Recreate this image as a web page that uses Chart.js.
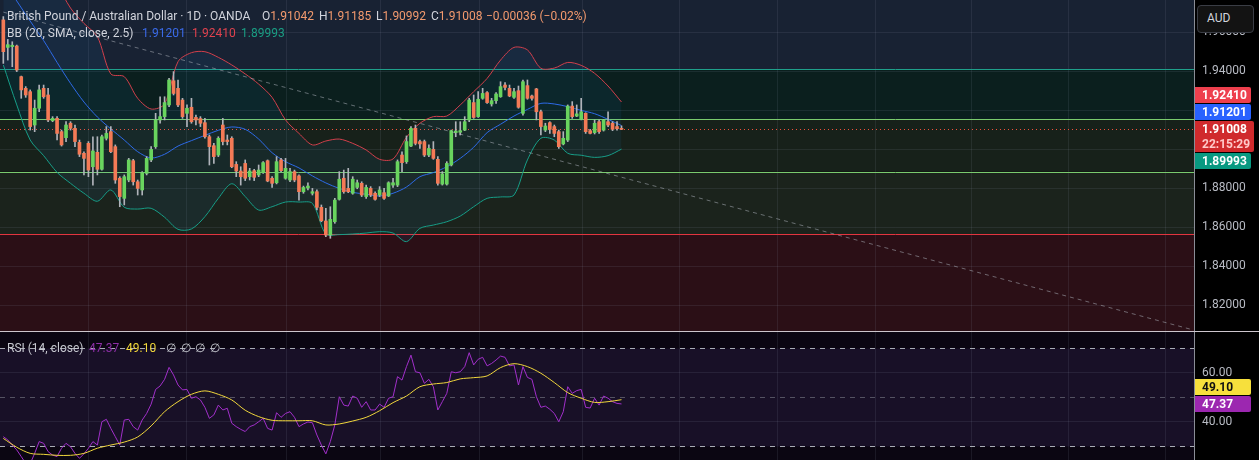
<!DOCTYPE html>
<html>
<head>
<meta charset="utf-8">
<title>GBPAUD 1D</title>
<script src="https://cdn.jsdelivr.net/npm/chart.js@4.4.1/dist/chart.umd.min.js"></script>
<style>
  html, body { margin: 0; padding: 0; background: #000; }
  body { width: 1259px; height: 460px; position: relative; overflow: hidden; font-family: Roboto, "Noto Sans", sans-serif; }
  canvas { position: absolute; left: 0; }
  #main { top: 0; }
  #rsi { top: 331px; }
  .t { position: absolute; font-size: 12px; line-height: 14px; white-space: nowrap; color: #d1d4dc; pointer-events: none; }
  .v { color: #f39a6e; }
  #aud { position: absolute; left: 1197px; top: 5px; width: 57px; height: 28px; box-sizing: border-box; border: 1px solid #3a3d45; border-radius: 4px; background: #131313; color: #d1d4dc; font-size: 12px; line-height: 24px; padding-left: 9px; }
</style>
</head>
<body>
<canvas id="main" width="1259" height="331"></canvas>
<canvas id="rsi" width="1259" height="129"></canvas>

<div class="t" style="left:7px;top:9px">British Pound / Australian Dollar · 1D · OANDA</div>
<div class="t" id="lgO" style="left:262px;top:9px"></div>
<div class="t" id="lgH" style="left:319px;top:9px"></div>
<div class="t" id="lgL" style="left:376px;top:9px"></div>
<div class="t" id="lgC" style="left:431px;top:9px"></div>
<div class="t v" id="lgChg" style="left:486px;top:9px"></div>

<div class="t" style="left:7px;top:26px">BB (20, SMA, close, 2.5)</div>
<div class="t" id="lgBasis" style="left:142px;top:26px;color:#3a6ae8"></div>
<div class="t" id="lgUpper" style="left:192px;top:26px;color:#e0424e"></div>
<div class="t" id="lgLower" style="left:241px;top:26px;color:#1a9e84"></div>

<div class="t" style="left:7px;top:341px;color:#c6c8cf">RSI (14, close)</div>
<div class="t" id="lgRsi" style="left:89px;top:341px;color:#8d2fa6"></div>
<div class="t" id="lgMa" style="left:126px;top:341px;color:#f2d83a"></div>
<div class="t" style="left:166px;top:341px;color:#c6c8cf">∅</div>
<div class="t" style="left:181px;top:341px;color:#c6c8cf">∅</div>
<div class="t" style="left:195px;top:341px;color:#c6c8cf">∅</div>
<div class="t" style="left:210px;top:341px;color:#c6c8cf">∅</div>

<div id="aud">AUD</div>

<script>
// daily candles, oldest first
const opens = [
  1.9662, 1.9521, 1.9525, 1.9528, 1.9371, 1.9311, 1.9294, 1.9123, 1.9209, 1.9311,
  1.9277, 1.9145, 1.9157, 1.9089, 1.9058, 1.9132, 1.9106, 1.9034, 1.8978, 1.9029,
  1.8909, 1.8983, 1.8896, 1.9055, 1.9089, 1.9012, 1.8850, 1.8747, 1.8841, 1.8940,
  1.8832, 1.8790, 1.8875, 1.8944, 1.9012, 1.9149, 1.9166, 1.9226, 1.9350, 1.9311,
  1.9251, 1.9183, 1.9214, 1.9162, 1.9156, 1.9135, 1.9063, 1.9017, 1.8969, 1.9123,
  1.9046, 1.9055, 1.8921, 1.8887, 1.8926, 1.8858, 1.8889, 1.8867, 1.8879, 1.8940,
  1.8850, 1.8827, 1.8944, 1.8850, 1.8841, 1.8884, 1.8862, 1.8781, 1.8800, 1.8773,
  1.8781, 1.8701, 1.8631, 1.8559, 1.8627, 1.8742, 1.8850, 1.8798, 1.8773, 1.8803,
  1.8824, 1.8756, 1.8798, 1.8773, 1.8764, 1.8776, 1.8759, 1.8815, 1.8815, 1.8969,
  1.8935, 1.9015, 1.9106, 1.9038, 1.9038, 1.8969, 1.8998, 1.8947, 1.8820, 1.8820,
  1.8918, 1.9084, 1.9086, 1.9097, 1.9149, 1.9238, 1.9166, 1.9260, 1.9289, 1.9231,
  1.9248, 1.9268, 1.9328, 1.9311, 1.9265, 1.9299, 1.9183, 1.9325, 1.9272, 1.9308,
  1.9191, 1.9097, 1.9135, 1.9115, 1.9089, 1.9026, 1.9046, 1.9220, 1.9169, 1.9152,
  1.9183, 1.9094, 1.9084, 1.9140, 1.9097, 1.9140, 1.9132, 1.9115, 1.91042
];
const highs = [
  1.9679, 1.9562, 1.9550, 1.9533, 1.9374, 1.9320, 1.9303, 1.9251, 1.9328, 1.9328,
  1.9311, 1.9166, 1.9166, 1.9097, 1.9140, 1.9140, 1.9123, 1.9046, 1.8986, 1.9038,
  1.9063, 1.9063, 1.9072, 1.9115, 1.9115, 1.9021, 1.8858, 1.8867, 1.8952, 1.8947,
  1.8841, 1.8884, 1.8961, 1.9012, 1.9183, 1.9268, 1.9268, 1.9362, 1.9397, 1.9354,
  1.9260, 1.9226, 1.9260, 1.9174, 1.9166, 1.9157, 1.9072, 1.9029, 1.9063, 1.9157,
  1.9072, 1.9063, 1.8935, 1.8909, 1.8944, 1.8901, 1.8896, 1.8918, 1.8935, 1.8944,
  1.8858, 1.8961, 1.8952, 1.8952, 1.8901, 1.8892, 1.8867, 1.8810, 1.8827, 1.8798,
  1.8790, 1.8713, 1.8696, 1.8704, 1.8747, 1.8884, 1.8892, 1.8901, 1.8858, 1.8841,
  1.8832, 1.8815, 1.8807, 1.8781, 1.8807, 1.8798, 1.8832, 1.8850, 1.8944, 1.8986,
  1.9067, 1.9115, 1.9123, 1.9046, 1.9046, 1.9021, 1.9038, 1.8961, 1.8884, 1.8935,
  1.9097, 1.9140, 1.9140, 1.9166, 1.9260, 1.9277, 1.9294, 1.9311, 1.9294, 1.9260,
  1.9289, 1.9345, 1.9340, 1.9328, 1.9311, 1.9323, 1.9354, 1.9354, 1.9277, 1.9311,
  1.9200, 1.9132, 1.9140, 1.9123, 1.9097, 1.9089, 1.9226, 1.9243, 1.9226, 1.9260,
  1.9186, 1.9101, 1.9149, 1.9149, 1.9152, 1.9191, 1.9140, 1.9140, 1.91185
];
const lows = [
  1.9439, 1.9456, 1.9422, 1.9397, 1.9260, 1.9265, 1.9097, 1.9089, 1.9191, 1.9260,
  1.9140, 1.9140, 1.9046, 1.9015, 1.9038, 1.9097, 1.9012, 1.8961, 1.8867, 1.8858,
  1.8815, 1.8867, 1.8892, 1.9046, 1.8981, 1.8824, 1.8704, 1.8713, 1.8832, 1.8815,
  1.8764, 1.8764, 1.8867, 1.8935, 1.9003, 1.9132, 1.9149, 1.9217, 1.9277, 1.9217,
  1.9157, 1.9115, 1.9132, 1.9123, 1.9115, 1.9055, 1.8918, 1.8926, 1.8961, 1.9021,
  1.9021, 1.8904, 1.8858, 1.8815, 1.8838, 1.8841, 1.8838, 1.8858, 1.8875, 1.8832,
  1.8803, 1.8821, 1.8884, 1.8845, 1.8832, 1.8832, 1.8738, 1.8773, 1.8790, 1.8764,
  1.8687, 1.8627, 1.8550, 1.8542, 1.8619, 1.8738, 1.8773, 1.8776, 1.8768, 1.8796,
  1.8756, 1.8747, 1.8756, 1.8738, 1.8756, 1.8742, 1.8756, 1.8803, 1.8807, 1.8884,
  1.8926, 1.9012, 1.9021, 1.9003, 1.8961, 1.8961, 1.8947, 1.8815, 1.8815, 1.8815,
  1.8913, 1.9063, 1.9072, 1.9094, 1.9140, 1.9157, 1.9162, 1.9255, 1.9234, 1.9220,
  1.9234, 1.9265, 1.9303, 1.9268, 1.9260, 1.9209, 1.9174, 1.9255, 1.9251, 1.9149,
  1.9072, 1.9089, 1.9080, 1.9063, 1.9003, 1.9021, 1.9038, 1.9157, 1.9166, 1.9149,
  1.9080, 1.9077, 1.9077, 1.9080, 1.9092, 1.9115, 1.9094, 1.9097, 1.90992
];
const closes = [
  1.9499, 1.9535, 1.9532, 1.9405, 1.9303, 1.9277, 1.9115, 1.9209, 1.9303, 1.9268,
  1.9149, 1.9157, 1.9080, 1.9021, 1.9123, 1.9106, 1.9038, 1.8973, 1.8952, 1.8892,
  1.8990, 1.8896, 1.9063, 1.9080, 1.8986, 1.8841, 1.8756, 1.8858, 1.8944, 1.8832,
  1.8798, 1.8879, 1.8952, 1.8998, 1.9149, 1.9166, 1.9238, 1.9354, 1.9285, 1.9226,
  1.9166, 1.9209, 1.9140, 1.9149, 1.9132, 1.9063, 1.9012, 1.8961, 1.9055, 1.9038,
  1.9038, 1.8909, 1.8887, 1.8858, 1.8850, 1.8887, 1.8855, 1.8892, 1.8930, 1.8836,
  1.8824, 1.8935, 1.8889, 1.8901, 1.8884, 1.8841, 1.8781, 1.8803, 1.8810, 1.8781,
  1.8701, 1.8632, 1.8559, 1.8639, 1.8738, 1.8845, 1.8781, 1.8781, 1.8845, 1.8827,
  1.8764, 1.8803, 1.8764, 1.8742, 1.8790, 1.8747, 1.8827, 1.8827, 1.8935, 1.8930,
  1.9038, 1.9106, 1.9029, 1.9026, 1.8969, 1.9003, 1.8952, 1.8824, 1.8872, 1.8926,
  1.9094, 1.9092, 1.9094, 1.9140, 1.9251, 1.9162, 1.9255, 1.9285, 1.9238, 1.9248,
  1.9282, 1.9320, 1.9316, 1.9272, 1.9294, 1.9214, 1.9345, 1.9260, 1.9260, 1.9191,
  1.9115, 1.9118, 1.9101, 1.9080, 1.9012, 1.9055, 1.9220, 1.9166, 1.9180, 1.9191,
  1.9089, 1.9080, 1.9132, 1.9089, 1.9149, 1.9123, 1.9101, 1.91044, 1.91008
];

// Bollinger bands, read every BB_STEP candles
const BB_STEP = 3;
const bbBasis = [
  1.9862, 1.9759, 1.9656, 1.9556, 1.9444, 1.9337, 1.9241, 1.9164, 1.9103, 1.9046,
  1.8986, 1.8954, 1.8973, 1.9015, 1.9043, 1.9070, 1.9096, 1.9113, 1.9101, 1.9051,
  1.8981, 1.8935, 1.8903, 1.8862, 1.8826, 1.8798, 1.8778, 1.8768, 1.8759, 1.8773,
  1.8805, 1.8858, 1.8879, 1.8909, 1.8952, 1.9009, 1.9084, 1.9127, 1.9169, 1.9203,
  1.9234, 1.9231, 1.9217, 1.9198, 1.9181, 1.9152, 1.91201
];
const bbUpper = [
  2.0226, 2.0157, 2.0072, 1.9969, 1.9846, 1.9723, 1.9644, 1.9576, 1.9385, 1.9371,
  1.9260, 1.9205, 1.9231, 1.9448, 1.9494, 1.9499, 1.9470, 1.9431, 1.9385, 1.9333,
  1.9265, 1.9149, 1.9080, 1.9021, 1.9041, 1.9051, 1.9029, 1.8995, 1.8947, 1.8949,
  1.9060, 1.9132, 1.9166, 1.9169, 1.9226, 1.9294, 1.9362, 1.9456, 1.9521, 1.9508,
  1.9414, 1.9415, 1.9444, 1.9429, 1.9388, 1.9323, 1.92410
];
const bbLower = [
  1.9431, 1.9226, 1.9046, 1.8966, 1.8880, 1.8824, 1.8773, 1.8732, 1.8790, 1.8701,
  1.8692, 1.8696, 1.8650, 1.8588, 1.8590, 1.8653, 1.8747, 1.8822, 1.8756, 1.8687,
  1.8704, 1.8728, 1.8728, 1.8721, 1.8564, 1.8561, 1.8564, 1.8569, 1.8576, 1.8569,
  1.8525, 1.8593, 1.8610, 1.8627, 1.8656, 1.8704, 1.8747, 1.8754, 1.8764, 1.8944,
  1.9055, 1.9046, 1.8978, 1.8968, 1.8957, 1.8966, 1.89993
];

// RSI(14) per candle and its moving average (every BB_STEP candles)
const rsiValues = [
  34.0, 32.7, 30.6, 28.6, 25.9, 23.1, 23.0, 27.2, 32.0, 31.3,
  27.9, 26.5, 25.9, 29.3, 31.3, 29.9, 27.2, 25.2, 27.0, 29.3,
  32.0, 30.6, 40.1, 41.1, 37.4, 34.0, 30.6, 40.8, 41.1, 38.1,
  36.7, 40.8, 43.5, 47.3, 53.3, 54.7, 57.4, 62.3, 59.2, 55.1,
  53.1, 53.3, 49.7, 50.3, 49.0, 46.0, 41.5, 42.9, 46.9, 44.9,
  45.6, 39.5, 38.1, 37.0, 36.1, 38.1, 38.8, 40.1, 41.5, 37.4,
  36.7, 43.8, 41.9, 43.5, 44.2, 41.9, 38.1, 39.2, 40.0, 39.7,
  34.7, 30.6, 27.0, 32.0, 38.8, 50.3, 46.9, 46.5, 50.6, 49.7,
  46.0, 48.3, 44.9, 44.9, 47.3, 46.0, 49.7, 50.3, 58.5, 57.1,
  62.6, 67.3, 60.5, 60.1, 55.8, 57.4, 54.4, 44.9, 48.3, 51.7,
  60.5, 60.1, 60.5, 62.6, 68.3, 63.3, 65.6, 66.4, 62.9, 63.9,
  65.3, 66.9, 66.4, 62.9, 63.3, 55.1, 62.6, 58.2, 57.4, 50.3,
  46.0, 46.5, 45.2, 43.5, 40.1, 44.2, 54.4, 51.7, 52.8, 53.3,
  46.0, 45.7, 49.7, 46.9, 50.6, 49.7, 48.3, 47.6, 47.37
];
const rsiMa = [
  33.3, 29.7, 27.2, 26.8, 26.4, 26.4, 27.2, 29.3, 30.6, 31.8,
  33.9, 38.4, 44.2, 48.3, 51.3, 52.7, 51.3, 49.0, 44.8, 42.2,
  40.7, 40.5, 40.5, 40.5, 38.8, 39.2, 40.4, 41.9, 44.6, 47.9,
  50.6, 54.4, 55.5, 56.1, 57.6, 58.1, 58.8, 62.2, 63.8, 62.6,
  59.9, 56.1, 52.0, 49.7, 48.0, 48.3, 49.10
];

// candle positions of the month separators (vertical grid)
const monthGrid = [19.1, 41.0, 63.3, 84.3, 106.2, 129.4, 151.0, 172.9, 194.6, 216.2, 237.7, 259.5];
// horizontal drawn levels, top to bottom
const levels = [1.9410, 1.9152, 1.8884, 1.8563];
// dashed trend line: price at candle 0 and at candle TREND_END
const trend = [1.9702, 1.8076];
const TREND_END = 265;
const rsiBand = [30, 70];
const rsiMid = 50;
const countdown = '22:15:29';

// visible ranges
const X_MIN = -0.74, X_MAX = 265.8;
const PRICE_MIN = 1.80667, PRICE_MAX = 1.97641;
const RSI_MIN = 24.49, RSI_MAX = 77.14;

const C = {
  up: '#69d45e', down: '#f47a56', wick: '#b0b3ba',
  basis: '#2f67e8', upper: '#d23f4b', lower: '#179e84', bbFill: 'rgba(33,150,243,0.07)',
  grid: 'rgba(150,160,180,0.12)', axisText: '#b8bbc4', axisLine: '#8a8d96',
  rsi: '#a12fca', ma: '#f1d73c'
};
const zoneColors = ['#182233', '#0b1f1e', '#17211a', '#1b231c', '#2b0f16'];
const levelColors = ['#1fa08b', '#7acb6e', '#7acb6e', '#e3353f'];

Chart.defaults.font.family = 'Roboto, "Noto Sans", sans-serif';
Chart.defaults.font.size = 12;

const idx = closes.map((_, i) => i);
const last = closes.length - 1;
const fmt5 = v => v.toFixed(5);
const stepPoints = vals => vals.map((v, k) => ({x: k * BB_STEP, y: v}));

function xScale() {
  return {
    type: 'linear', min: X_MIN, max: X_MAX, offset: false,
    afterBuildTicks: s => { s.ticks = monthGrid.map(v => ({value: v})); },
    afterFit: s => { s.height = 0; s.paddingLeft = 0; s.paddingRight = 0; },
    ticks: {display: false},
    grid: {color: C.grid, drawTicks: false, offset: false},
    border: {display: false}
  };
}

function yScale(min, max, step, digits) {
  return {
    type: 'linear', position: 'right', min: min, max: max,
    afterFit: s => { s.width = 65; s.paddingTop = 0; s.paddingBottom = 0; },
    ticks: {stepSize: step, includeBounds: false, autoSkip: false, color: C.axisText, padding: 8,
            callback: v => Number(v).toFixed(digits)},
    grid: {color: C.grid, drawTicks: false},
    border: {display: true, color: C.axisLine}
  };
}

// price labels on the axis, the main one stays on its price, the others are pushed away
function drawBadges(chart, items, fixedIndex) {
  const {ctx, chartArea: a, scales: {y}} = chart;
  const LINE = 15;
  const boxes = items.map(it => ({...it, h: it.lines.length * LINE + 1, top: y.getPixelForValue(it.value) - 8}));
  const fixed = boxes[fixedIndex];
  let limit = fixed.top - 1;
  boxes.filter(b => b !== fixed && b.value > fixed.value)
    .sort((p, q) => q.top - p.top)
    .forEach(b => { const bottom = Math.min(b.top + b.h, limit); b.top = bottom - b.h; limit = b.top - 1; });
  limit = fixed.top + fixed.h + 1;
  boxes.filter(b => b !== fixed && b.value <= fixed.value)
    .sort((p, q) => p.top - q.top)
    .forEach(b => { b.top = Math.max(b.top, limit); limit = b.top + b.h + 1; });

  ctx.save();
  ctx.font = 'bold 12px Roboto';
  ctx.textBaseline = 'middle';
  boxes.forEach(b => {
    ctx.fillStyle = b.bg;
    ctx.beginPath();
    ctx.roundRect(a.right + 1, Math.round(b.top), b.w, b.h, [0, 2, 2, 0]);
    ctx.fill();
    b.lines.forEach((txt, k) => {
      ctx.fillStyle = k === 0 ? b.fg : b.fg2;
      ctx.fillText(txt, a.right + 8, Math.round(b.top) + 8.5 + k * LINE);
    });
  });
  ctx.restore();
}

const mainBack = {
  id: 'mainBack',
  beforeDraw(chart) {
    const {ctx, chartArea: a, scales: {y}} = chart;
    ctx.save();
    ctx.fillStyle = '#000';
    ctx.fillRect(0, 0, chart.width, chart.height);
    const edges = [a.top, ...levels.map(v => y.getPixelForValue(v)), a.bottom];
    zoneColors.forEach((c, k) => {
      ctx.fillStyle = c;
      ctx.fillRect(a.left, edges[k], a.width, edges[k + 1] - edges[k]);
    });
    ctx.restore();
  },
  beforeDatasetsDraw(chart) {
    const {ctx, chartArea: a, scales: {y}} = chart;
    ctx.save();
    ctx.lineWidth = 1;
    levels.forEach((v, k) => {
      const py = Math.round(y.getPixelForValue(v)) + 0.5;
      ctx.strokeStyle = levelColors[k];
      ctx.beginPath(); ctx.moveTo(a.left, py); ctx.lineTo(a.right, py); ctx.stroke();
    });
    const py = Math.round(y.getPixelForValue(closes[last])) + 0.5;
    ctx.setLineDash([1, 3]);
    ctx.strokeStyle = '#f0503a';
    ctx.beginPath(); ctx.moveTo(a.left, py); ctx.lineTo(a.right, py); ctx.stroke();
    ctx.restore();
  },
  afterDraw(chart) {
    drawBadges(chart, [
      {value: bbUpper[bbUpper.length - 1], bg: '#ee3f4d', fg: '#fff', lines: [fmt5(bbUpper[bbUpper.length - 1])], w: 56},
      {value: bbBasis[bbBasis.length - 1], bg: '#2962ff', fg: '#fff', lines: [fmt5(bbBasis[bbBasis.length - 1])], w: 56},
      {value: closes[last], bg: '#d02a2d', fg: '#fff', fg2: '#ffc9c9', lines: [fmt5(closes[last]), countdown], w: 59},
      {value: bbLower[bbLower.length - 1], bg: '#089981', fg: '#fff', lines: [fmt5(bbLower[bbLower.length - 1])], w: 56}
    ], 2);
  }
};

new Chart(document.getElementById('main'), {
  type: 'bar',
  data: {
    datasets: [
      {type: 'line', label: 'trend', data: [{x: 0, y: trend[0]}, {x: TREND_END, y: trend[1]}],
       borderColor: 'rgba(170,174,184,0.55)', borderWidth: 1, borderDash: [4, 4], pointRadius: 0, order: 0},
      {type: 'bar', label: 'bodies', data: idx.map(i => ({x: i, y: [opens[i], closes[i]]})),
       backgroundColor: ctx => closes[ctx.dataIndex] >= opens[ctx.dataIndex] ? C.up : C.down,
       barThickness: 3, minBarLength: 1, grouped: false, order: 1},
      {type: 'bar', label: 'wicks', data: idx.map(i => ({x: i, y: [lows[i], highs[i]]})),
       backgroundColor: C.wick, barThickness: 1, grouped: false, order: 2},
      {type: 'line', label: 'upper', data: stepPoints(bbUpper), borderColor: C.upper, borderWidth: 1,
       pointRadius: 0, tension: 0.3, fill: 5, backgroundColor: C.bbFill, order: 3},
      {type: 'line', label: 'basis', data: stepPoints(bbBasis), borderColor: C.basis, borderWidth: 1,
       pointRadius: 0, tension: 0.3, fill: false, order: 3},
      {type: 'line', label: 'lower', data: stepPoints(bbLower), borderColor: C.lower, borderWidth: 1,
       pointRadius: 0, tension: 0.3, fill: false, order: 3}
    ]
  },
  options: {
    responsive: false, devicePixelRatio: 1, animation: false, events: [],
    layout: {padding: 0},
    plugins: {legend: {display: false}, tooltip: {enabled: false}},
    scales: {x: xScale(), y: yScale(PRICE_MIN, PRICE_MAX, 0.02, 5)}
  },
  plugins: [mainBack]
});

const rsiBack = {
  id: 'rsiBack',
  beforeDraw(chart) {
    const {ctx, chartArea: a, scales: {y}} = chart;
    ctx.save();
    ctx.fillStyle = '#000';
    ctx.fillRect(0, 0, chart.width, chart.height);
    ctx.fillStyle = '#0b0612';
    ctx.fillRect(a.left, a.top, a.width, a.height);
    const t = y.getPixelForValue(rsiBand[1]), b = y.getPixelForValue(rsiBand[0]);
    ctx.fillStyle = 'rgba(126,87,194,0.12)';
    ctx.fillRect(a.left, t, a.width, b - t);
    ctx.restore();
  },
  beforeDatasetsDraw(chart) {
    const {ctx, chartArea: a, scales: {y}} = chart;
    ctx.save();
    ctx.lineWidth = 1;
    ctx.setLineDash([5, 5]);
    [[rsiBand[1], '#a9acb5'], [rsiMid, 'rgba(134,137,147,0.55)'], [rsiBand[0], '#a9acb5']].forEach(([v, c]) => {
      const py = Math.round(y.getPixelForValue(v)) + 0.5;
      ctx.strokeStyle = c;
      ctx.beginPath(); ctx.moveTo(a.left, py); ctx.lineTo(a.right, py); ctx.stroke();
    });
    ctx.restore();
  },
  afterDraw(chart) {
    const {ctx} = chart;
    ctx.save();
    ctx.fillStyle = '#cdc6cd';
    ctx.fillRect(0, 0, chart.width, 1);
    ctx.restore();
    drawBadges(chart, [
      {value: rsiMa[rsiMa.length - 1], bg: '#f7e03c', fg: '#111', lines: [rsiMa[rsiMa.length - 1].toFixed(2)], w: 56},
      {value: rsiValues[last], bg: '#9c27b0', fg: '#fff', lines: [rsiValues[last].toFixed(2)], w: 56}
    ], 1);
  }
};

new Chart(document.getElementById('rsi'), {
  type: 'line',
  data: {
    datasets: [
      {label: 'RSI-based MA', data: stepPoints(rsiMa), borderColor: C.ma, borderWidth: 1,
       pointRadius: 0, tension: 0.3, order: 1},
      {label: 'RSI', data: rsiValues.map((v, i) => ({x: i, y: v})), borderColor: C.rsi, borderWidth: 1,
       pointRadius: 0, tension: 0, order: 2}
    ]
  },
  options: {
    responsive: false, devicePixelRatio: 1, animation: false, events: [],
    layout: {padding: 0},
    plugins: {legend: {display: false}, tooltip: {enabled: false}},
    scales: {x: xScale(), y: yScale(RSI_MIN, RSI_MAX, 20, 2)}
  },
  plugins: [rsiBack]
});

// legend values
const span = (label, val) => label + '<span class="v">' + val + '</span>';
const chg = closes[last] - closes[last - 1];
const sign = v => (v < 0 ? '−' : '+');
document.getElementById('lgO').innerHTML = span('O', fmt5(opens[last]));
document.getElementById('lgH').innerHTML = span('H', fmt5(highs[last]));
document.getElementById('lgL').innerHTML = span('L', fmt5(lows[last]));
document.getElementById('lgC').innerHTML = span('C', fmt5(closes[last]));
document.getElementById('lgChg').textContent =
  sign(chg) + Math.abs(chg).toFixed(5) + ' (' + sign(chg) + Math.abs(chg / closes[last - 1] * 100).toFixed(2) + '%)';
document.getElementById('lgBasis').textContent = fmt5(bbBasis[bbBasis.length - 1]);
document.getElementById('lgUpper').textContent = fmt5(bbUpper[bbUpper.length - 1]);
document.getElementById('lgLower').textContent = fmt5(bbLower[bbLower.length - 1]);
document.getElementById('lgRsi').textContent = rsiValues[last].toFixed(2);
document.getElementById('lgMa').textContent = rsiMa[rsiMa.length - 1].toFixed(2);
</script>
</body>
</html>
